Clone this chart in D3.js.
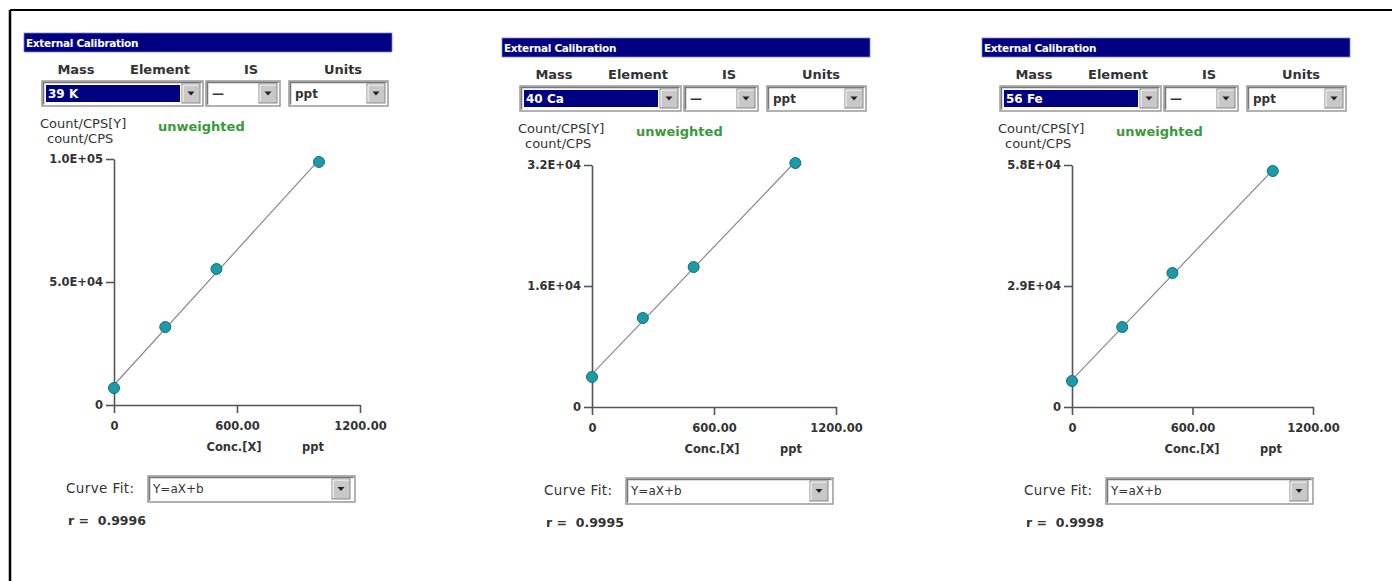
<!DOCTYPE html>
<html>
<head>
<meta charset="utf-8">
<script src="https://cdn.jsdelivr.net/npm/d3@7"></script>
<style>
  html, body { margin: 0; padding: 0; background: #fff; }
  svg { display: block; }
</style>
</head>
<body>
<svg id="chart" width="1392" height="581" font-family="'DejaVu Sans', sans-serif"></svg>
<script>
// ---------------- data ----------------
const titleText = "External Calibration";
const columnLabels = ["Mass", "Element", "IS", "Units"];
const elements = ["39 K", "40 Ca", "56 Fe"];
const isLabels = ["—", "—", "—"];
const unitLabels = ["ppt", "ppt", "ppt"];
const concentrations = [0, 250, 500, 1000];
const countsK  = [6900, 31700, 55300, 98800];
const countsCa = [3970, 11770, 18510, 32260];
const countsFe = [6230, 19170, 32120, 56560];
const yMaxValues = [100000, 32000, 58000];
const yTickLabelsK  = ["0", "5.0E+04", "1.0E+05"];
const yTickLabelsCa = ["0", "1.6E+04", "3.2E+04"];
const yTickLabelsFe = ["0", "2.9E+04", "5.8E+04"];
const xTickValues = [0, 600, 1200];
const xTickLabels = ["0", "600.00", "1200.00"];
const curveFits = ["Y=aX+b", "Y=aX+b", "Y=aX+b"];
const rValues = ["0.9996", "0.9995", "0.9998"];

const seriesList = [countsK, countsCa, countsFe];
const yTickLabelList = [yTickLabelsK, yTickLabelsCa, yTickLabelsFe];

// ---------------- layout ----------------
const axisXs  = [114, 592, 1072];
const xRights = [360, 836, 1313];
const headerTops = [33, 38, 38];
const yTops  = [159, 165, 165];
const yZeros = [405, 407, 407];
const FONT = "'DejaVu Sans', sans-serif";
const TXT = "#333";

const svg = d3.select("#chart");

// outer frame
svg.append("line").attr("x1", 10).attr("y1", 10).attr("x2", 1392).attr("y2", 10)
  .attr("stroke", "#000").attr("stroke-width", 2);
svg.append("line").attr("x1", 10).attr("y1", 10).attr("x2", 10).attr("y2", 581)
  .attr("stroke", "#000").attr("stroke-width", 2.5);

function dropButton(g, x, y, h) {
  const w = 18;
  g.append("rect").attr("x", x).attr("y", y).attr("width", w).attr("height", h)
    .attr("fill", "#c8c8c8").attr("stroke", "#888").attr("stroke-width", 1);
  g.append("path").attr("d", `M${x+1},${y+h-1}V${y+1}H${x+w-1}`)
    .attr("fill", "none").attr("stroke", "#fff").attr("stroke-width", 1);
  const cx = x + w / 2, cy = y + h / 2;
  g.append("path").attr("d", `M${cx-3.5},${cy-2}L${cx+3.5},${cy-2}L${cx},${cy+2}Z`)
    .attr("fill", "#222");
}

function dropdown(g, x0, x1, y, h, label, selected) {
  g.append("rect").attr("x", x0).attr("y", y).attr("width", x1 - x0).attr("height", h)
    .attr("fill", "#fff").attr("stroke", "#999").attr("stroke-width", 1.5);
  g.append("path").attr("d", `M${x0+1.5},${y+h-1.5}V${y+1.5}H${x1-1.5}`)
    .attr("fill", "none").attr("stroke", "#777").attr("stroke-width", 1.5);
  const bx = x1 - 21;
  if (selected) {
    g.append("rect").attr("x", x0 + 4).attr("y", y + 4).attr("width", bx - x0 - 6).attr("height", h - 8)
      .attr("fill", "#000080");
  }
  g.append("text").attr("x", x0 + 6).attr("y", y + h / 2 + 4.5)
    .attr("font-size", 12).attr("font-weight", "bold")
    .attr("fill", selected ? "#fff" : TXT).text(label);
  dropButton(g, bx, y + 3, h - 6);
}

seriesList.forEach((values, i) => {
  const ax = axisXs[i];
  const ht = headerTops[i];
  const g = svg.append("g");

  // title bar
  g.append("rect").attr("x", ax - 90).attr("y", ht).attr("width", 368).attr("height", 19)
    .attr("fill", "#000080").attr("stroke", "#8080d0").attr("stroke-width", 0.8);
  g.append("text").attr("x", ax - 88).attr("y", ht + 13.5)
    .attr("font-size", 10.5).attr("font-weight", "bold").attr("fill", "#fff")
    .attr("letter-spacing", -0.3).text(titleText);

  // column labels
  const colX = [ax - 38, ax + 46, ax + 137, ax + 229];
  columnLabels.forEach((c, k) => {
    g.append("text").attr("x", colX[k]).attr("y", ht + 41).attr("text-anchor", "middle")
      .attr("font-size", 13).attr("font-weight", "bold").attr("fill", TXT).text(c);
  });

  // dropdowns
  const dy = ht + 48;
  dropdown(g, ax - 72, ax + 89, dy, 25, elements[i], true);
  dropdown(g, ax + 92, ax + 166, dy, 25, isLabels[i], false);
  dropdown(g, ax + 175, ax + 274, dy, 25, unitLabels[i], false);

  // y-axis titles
  g.append("text").attr("x", ax - 74).attr("y", ht + 95)
    .attr("font-size", 13).attr("fill", TXT).text("Count/CPS[Y]");
  g.append("text").attr("x", ax - 67).attr("y", ht + 110)
    .attr("font-size", 13).attr("fill", TXT).text("count/CPS");
  g.append("text").attr("x", ax + 44).attr("y", ht + 98)
    .attr("font-size", 13).attr("font-weight", "bold").attr("fill", "#3a9a3a").text("unweighted");

  // scales
  const x = d3.scaleLinear().domain([0, 1200]).range([ax, xRights[i]]);
  const y = d3.scaleLinear().domain([0, yMaxValues[i]]).range([yZeros[i], yTops[i]]);
  const labs = yTickLabelList[i];

  const yAxis = d3.axisLeft(y)
    .tickValues([0, yMaxValues[i] / 2, yMaxValues[i]])
    .tickFormat((d, k) => labs[k])
    .tickSize(8).tickSizeOuter(0).tickPadding(3);
  const yG = g.append("g").attr("transform", `translate(${ax},0)`).call(yAxis);

  const xAxis = d3.axisBottom(x)
    .tickValues(xTickValues)
    .tickFormat((d, k) => xTickLabels[k])
    .tickSize(8).tickSizeOuter(0).tickPadding(9);
  const xG = g.append("g").attr("transform", `translate(0,${yZeros[i]})`).call(xAxis);

  [yG, xG].forEach(a => {
    a.attr("font-family", FONT);
    a.select(".domain").attr("stroke", "#555").attr("stroke-width", 1.6);
    a.selectAll(".tick line").attr("stroke", "#555").attr("stroke-width", 1.6);
    a.selectAll(".tick text").attr("fill", TXT).attr("font-size", 11.5)
      .attr("font-weight", "bold");
  });

  // axis captions
  g.append("text").attr("x", ax + 120).attr("y", yZeros[i] + 46).attr("text-anchor", "middle")
    .attr("font-size", 11.5).attr("font-weight", "bold").attr("fill", TXT)
    .text("Conc.[X]");
  g.append("text").attr("x", ax + 199).attr("y", yZeros[i] + 46).attr("text-anchor", "middle")
    .attr("font-size", 11.5).attr("font-weight", "bold").attr("fill", TXT).text("ppt");

  // regression line
  const mx = d3.mean(concentrations), my = d3.mean(values);
  let sxy = 0, sxx = 0;
  concentrations.forEach((c, k) => { sxy += (c - mx) * (values[k] - my); sxx += (c - mx) ** 2; });
  const a = sxy / sxx, b = my - a * mx;
  const xs = d3.extent(concentrations);
  g.append("path")
    .datum(xs.map(c => [c, a * c + b]))
    .attr("d", d3.line().x(d => x(d[0])).y(d => y(d[1])))
    .attr("fill", "none").attr("stroke", "#8a8a8a").attr("stroke-width", 1.2);

  // points
  g.selectAll("circle.pt").data(concentrations.map((c, k) => [c, values[k]])).enter()
    .append("circle").attr("class", "pt")
    .attr("cx", d => x(d[0])).attr("cy", d => y(d[1])).attr("r", 5.5)
    .attr("fill", "#1c9aa8").attr("stroke", "#12707c").attr("stroke-width", 1);

  // curve fit
  const cy = yZeros[i] + 83;
  g.append("text").attr("x", ax - 48).attr("y", cy + 5)
    .attr("font-size", 13.5).attr("fill", TXT).attr("letter-spacing", 0.4).text("Curve Fit:");
  g.append("rect").attr("x", ax + 34).attr("y", cy - 12).attr("width", 207).attr("height", 26)
    .attr("fill", "#fff").attr("stroke", "#999").attr("stroke-width", 1.5);
  g.append("path").attr("d", `M${ax+35.5},${cy+12.5}V${cy-10.5}H${ax+239.5}`)
    .attr("fill", "none").attr("stroke", "#777").attr("stroke-width", 1.5);
  g.append("text").attr("x", ax + 39).attr("y", cy + 5)
    .attr("font-size", 12).attr("fill", TXT).text(curveFits[i]);
  dropButton(g, ax + 218, cy - 9, 20);

  g.append("text").attr("x", ax - 46).attr("y", yZeros[i] + 120)
    .attr("font-size", 12.5).attr("font-weight", "bold").attr("fill", TXT)
    .attr("xml:space", "preserve").text("r =  " + rValues[i]);
});
</script>
</body>
</html>
